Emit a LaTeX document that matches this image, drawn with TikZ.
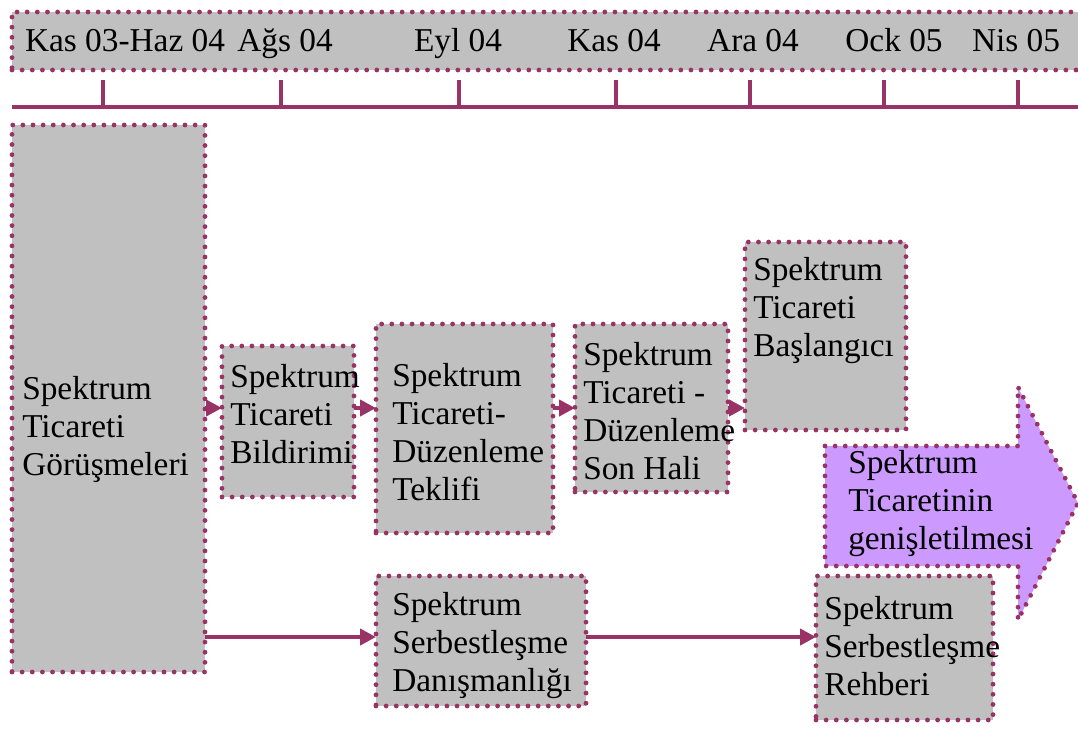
\documentclass[tikz,border=0pt]{standalone}
\usepackage{fontspec}
\setmainfont{Liberation Serif}
\usetikzlibrary{arrows.meta}

\begin{document}
\begin{tikzpicture}[x=0.75pt,y=-0.75pt]
	\definecolor{plum}{RGB}{153,51,102}
	\definecolor{boxgray}{RGB}{192,192,192}
	\definecolor{lilac}{RGB}{204,153,255}
	\tikzset{
		dots/.style={draw=plum, line width=3.6pt, line cap=round, dash pattern=on 0pt off 7.6pt},
		stage/.style={dots, fill=boxgray, inner sep=0pt, outer sep=0pt, anchor=north west},
		txt/.style={font=\fontsize{25}{28.5}\selectfont, align=left, anchor=west, inner sep=0pt},
		month/.style={font=\fontsize{25}{28.5}\selectfont, anchor=base, inner sep=0pt},
		tline/.style={plum, line width=2.4pt},
		link/.style={plum, line width=3pt, -{Triangle[length=12pt,width=12pt]}}
	}
	\useasboundingbox (0,0) rectangle (1078,729);

	% time axis
	\node (bar) [stage, minimum width={1073*0.75pt}, minimum height={58*0.75pt}] at (12,12) {};
	\foreach \x/\m [count=\i] in {125/Kas 03-Haz 04, 285/Ağs 04, 458/Eyl 04, 614/Kas 04, 753/Ara 04, 894/Ock 05, 1016/Nis 05}
		\node (m\i) [month] at (\x,51) {\m};
	\draw[tline] (12,107) -- (1078,107);
	\foreach \x in {103,281,459,616,750,884,1018}
		\draw[tline] (\x,80) -- (\x,107);

	% stages
	\node (gorusme) [stage, minimum width={193*0.75pt}, minimum height={547*0.75pt}] at (12,125) {};
	\node (bildirim) [stage, minimum width={132*0.75pt}, minimum height={151*0.75pt}] at (222,346) {};
	\node (teklif) [stage, minimum width={177*0.75pt}, minimum height={209*0.75pt}] at (376,324) {};
	\node (sonhal) [stage, minimum width={153*0.75pt}, minimum height={168*0.75pt}] at (575,324) {};
	\node (baslangic) [stage, minimum width={161*0.75pt}, minimum height={188*0.75pt}] at (745,242) {};
	\node (danisma) [stage, minimum width={210*0.75pt}, minimum height={130*0.75pt}] at (376,576) {};
	\node (rehber) [stage, minimum width={177*0.75pt}, minimum height={144*0.75pt}] at (816,576) {};

	% expansion arrow
	\draw[dots, fill=lilac] (825,446) -- (1018,446) -- (1018,387) -- (1078,503)
		-- (1018,620) -- (1018,566) -- (825,566) -- cycle;

	% texts
	\node (t1) [txt] at (22,429) {Spektrum\\Ticareti\\Görüşmeleri};
	\node (t2) [txt] at (230,414) {Spektrum\\Ticareti\\Bildirimi};
	\node (t3) [txt] at (392,432) {Spektrum\\Ticareti-\\Düzenleme\\Teklifi};
	\node (t4) [txt] at (583,411) {Spektrum\\Ticareti -\\Düzenleme\\Son Hali};
	\node (t5) [txt] at (753,311) {Spektrum\\Ticareti\\Başlangıcı};
	\node (t6) [txt] at (392,646) {Spektrum\\Serbestleşme\\Danışmanlığı};
	\node (t7) [txt] at (824,646) {Spektrum\\Serbestleşme\\Rehberi};
	\node (genis) [txt] at (848,504) {Spektrum\\Ticaretinin\\genişletilmesi};

	% links
	\coordinate (row) at (0,408);
	\coordinate (low) at (0,637);
	\draw[link] (gorusme.east |- row) -- (bildirim.west |- row);
	\draw[link] (bildirim.east |- row) -- (teklif.west |- row);
	\draw[link] (teklif.east |- row) -- (sonhal.west |- row);
	\draw[link] (sonhal.east |- row) -- (baslangic.west |- row);
	\draw[link] (gorusme.east |- low) -- (danisma.west |- low);
	\draw[link] (danisma.east |- low) -- (rehber.west |- low);
\end{tikzpicture}
\end{document}
